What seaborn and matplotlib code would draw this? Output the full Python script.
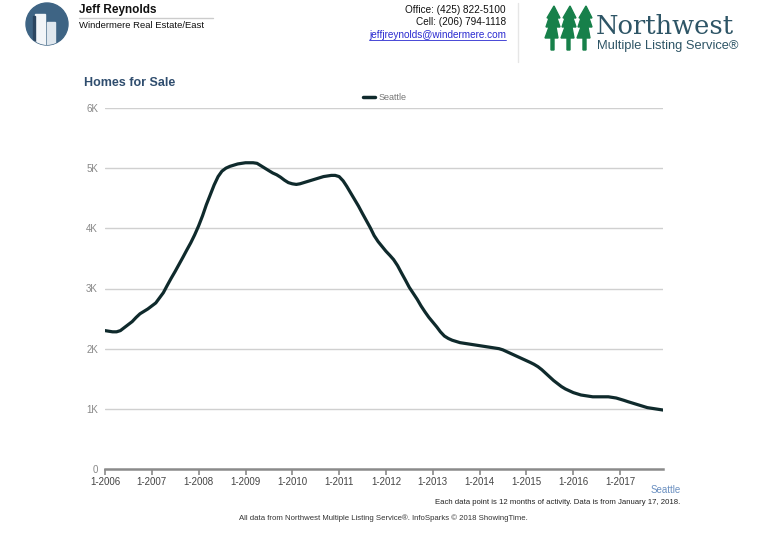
import numpy as np
import pandas as pd
import seaborn as sns
import matplotlib.pyplot as plt
from matplotlib.patches import Ellipse, Rectangle, Polygon
from matplotlib.lines import Line2D

# monthly inventory, Seattle, 1-2006 .. 12-2017 (thousands of homes)
start_month = "2006-01-01"
homes_2006 = [2.30, 2.29, 2.28, 2.28, 2.30, 2.35, 2.40, 2.45, 2.52, 2.58, 2.62, 2.66]
homes_2007 = [2.71, 2.76, 2.84, 2.93, 3.05, 3.17, 3.28, 3.40, 3.52, 3.64, 3.76, 3.89]
homes_2008 = [4.04, 4.21, 4.39, 4.56, 4.72, 4.86, 4.95, 5.00, 5.03, 5.05, 5.07, 5.08]
homes_2009 = [5.09, 5.09, 5.09, 5.08, 5.04, 5.00, 4.96, 4.92, 4.89, 4.85, 4.80, 4.76]
homes_2010 = [4.74, 4.73, 4.74, 4.76, 4.78, 4.80, 4.82, 4.84, 4.86, 4.87, 4.88, 4.88]
homes_2011 = [4.86, 4.79, 4.70, 4.59, 4.48, 4.37, 4.25, 4.13, 4.01, 3.88, 3.78, 3.70]
homes_2012 = [3.62, 3.55, 3.48, 3.38, 3.26, 3.14, 3.02, 2.92, 2.82, 2.71, 2.61, 2.52]
homes_2013 = [2.44, 2.36, 2.28, 2.21, 2.17, 2.14, 2.12, 2.10, 2.09, 2.08, 2.07, 2.06]
homes_2014 = [2.05, 2.04, 2.03, 2.02, 2.01, 2.00, 1.98, 1.95, 1.92, 1.89, 1.86, 1.83]
homes_2015 = [1.80, 1.77, 1.74, 1.70, 1.65, 1.59, 1.53, 1.47, 1.42, 1.37, 1.33, 1.30]
homes_2016 = [1.27, 1.25, 1.23, 1.22, 1.21, 1.20, 1.20, 1.20, 1.20, 1.20, 1.19, 1.18]
homes_2017 = [1.16, 1.14, 1.12, 1.10, 1.08, 1.06, 1.04, 1.02, 1.01, 1.00, 0.99, 0.98]

years = list(range(2006, 2018))
y_ticks = [0, 1000, 2000, 3000, 4000, 5000, 6000]
y_labels = ["0", "1K", "2K", "3K", "4K", "5K", "6K"]

values = (homes_2006 + homes_2007 + homes_2008 + homes_2009 + homes_2010 + homes_2011
          + homes_2012 + homes_2013 + homes_2014 + homes_2015 + homes_2016 + homes_2017)
df = pd.DataFrame({
    "Month": pd.date_range(start_month, periods=len(values), freq="MS"),
    "Homes": np.array(values) * 1000,
})

sns.set_theme(style="white")
plt.rcParams["font.family"] = ["Liberation Sans", "DejaVu Sans"]

W, H = 766, 537
fig = plt.figure(figsize=(W / 100, H / 100), dpi=100)

def fx(px):
    return px / W

def fy(py):
    return 1 - py / H

ax = fig.add_axes([fx(105), fy(469), fx(663) - fx(105), fy(108) - fy(469)])
sns.lineplot(data=df, x="Month", y="Homes", ax=ax, color="#0f2a2c", linewidth=2.3, legend=False)

ax.set_xlim(df["Month"].iloc[0], df["Month"].iloc[-1])
ax.set_ylim(0, 6000)
ax.set_yticks(y_ticks)
ax.set_yticklabels(y_labels)
ax.set_xticks([pd.Timestamp(f"{y}-01-01") for y in years])
ax.set_xticklabels([f"1-{y}" for y in years])
ax.set_xlabel("")
ax.set_ylabel("")
for v in y_ticks[1:]:
    ax.axhline(v, color="#d0d0d0", linewidth=1, zorder=0)
for s in ["top", "right", "left"]:
    ax.spines[s].set_visible(False)
ax.spines["bottom"].set_color("#8a8a8a")
ax.spines["bottom"].set_linewidth(1.8)
ax.tick_params(axis="x", bottom=True, length=4, width=1.2, color="#8a8a8a",
               labelsize=7, labelcolor="#444444", pad=2)
ax.tick_params(axis="y", left=False, length=0, labelsize=7, labelcolor="#888888", pad=5)

# legend
fig.add_artist(Line2D([fx(363), fx(375)], [fy(97), fy(97)], color="#0f2a2c", linewidth=2.5))
fig.text(fx(379), fy(97), "Seattle", fontsize=6.5, color="#777777", va="center")

# title
fig.text(fx(84), fy(83), "Homes for Sale", fontsize=9, fontweight="bold", color="#2f4d6e", va="center")

# footer
fig.text(fx(681), fy(490), "Seattle", fontsize=7, color="#6a8fc0", ha="right", va="center")
fig.text(fx(680), fy(502), "Each data point is 12 months of activity. Data is from January 17, 2018.",
         fontsize=5.6, color="#222222", ha="right", va="center")
fig.text(fx(383), fy(518), "All data from Northwest Multiple Listing Service\u00ae. InfoSparks \u00a9 2018 ShowingTime.",
         fontsize=5.6, color="#333333", ha="center", va="center")

# header: agent logo
logo = Ellipse((fx(47), fy(24)), 42 / W, 42 / H, transform=fig.transFigure, color="#3e6484")
fig.add_artist(logo)
for x0, top, w, c in [(35, 14, 10, "#f2f5f8"), (47, 22, 8, "#dfe7ee")]:
    r = Rectangle((fx(x0), fy(50)), w / W, (50 - top) / H, transform=fig.transFigure, color=c)
    r.set_clip_path(logo)
    fig.add_artist(r)
fig.add_artist(Rectangle((fx(33), fy(50)), 2 / W, 34 / H, transform=fig.transFigure, color="#2a4560",
                         clip_path=logo))

fig.text(fx(79), fy(10), "Jeff Reynolds", fontsize=8.5, fontweight="bold", color="#111111", va="center")
fig.add_artist(Line2D([fx(79), fx(213)], [fy(18), fy(18)], color="#cccccc", linewidth=1))
fig.text(fx(79), fy(26), "Windermere Real Estate/East", fontsize=6.8, color="#111111", va="center")
fig.text(fx(506), fy(10), "Office: (425) 822-5100", fontsize=7.2, color="#111111", ha="right", va="center")
fig.text(fx(506), fy(22), "Cell: (206) 794-1118", fontsize=7.2, color="#111111", ha="right", va="center")
fig.text(fx(506), fy(35), "jeffjreynolds@windermere.com", fontsize=7.2, color="#2a2ad0",
         ha="right", va="center")
fig.add_artist(Line2D([fx(369), fx(506)], [fy(40), fy(40)], color="#2a2ad0", linewidth=0.6))
fig.add_artist(Line2D([fx(518), fx(518)], [fy(3), fy(62)], color="#e6e6e6", linewidth=1))

# header: Northwest logo
green = "#17804a"
for x0 in [545, 561, 577]:
    pts = [(x0 + 9, 6), (x0 + 15, 18), (x0 + 12, 18), (x0 + 15, 27), (x0 + 11, 27),
           (x0 + 13, 38), (x0 + 9, 38), (x0 + 9, 50), (x0 + 6, 50), (x0 + 6, 38),
           (x0 + 0, 38), (x0 + 4, 27), (x0 + 1, 27), (x0 + 4, 18), (x0 + 2, 18)]
    fig.add_artist(Polygon([(fx(px), fy(py)) for px, py in pts], closed=True,
                           transform=fig.transFigure, color=green))
fig.text(fx(596), fy(27), "Northwest", fontsize=18.5, family=["DejaVu Serif"], color="#2e5566", va="center")
fig.text(fx(597), fy(46), "Multiple Listing Service\u00ae", fontsize=9.3, color="#2e5566", va="center")

fig.savefig("out.png", dpi=100)
